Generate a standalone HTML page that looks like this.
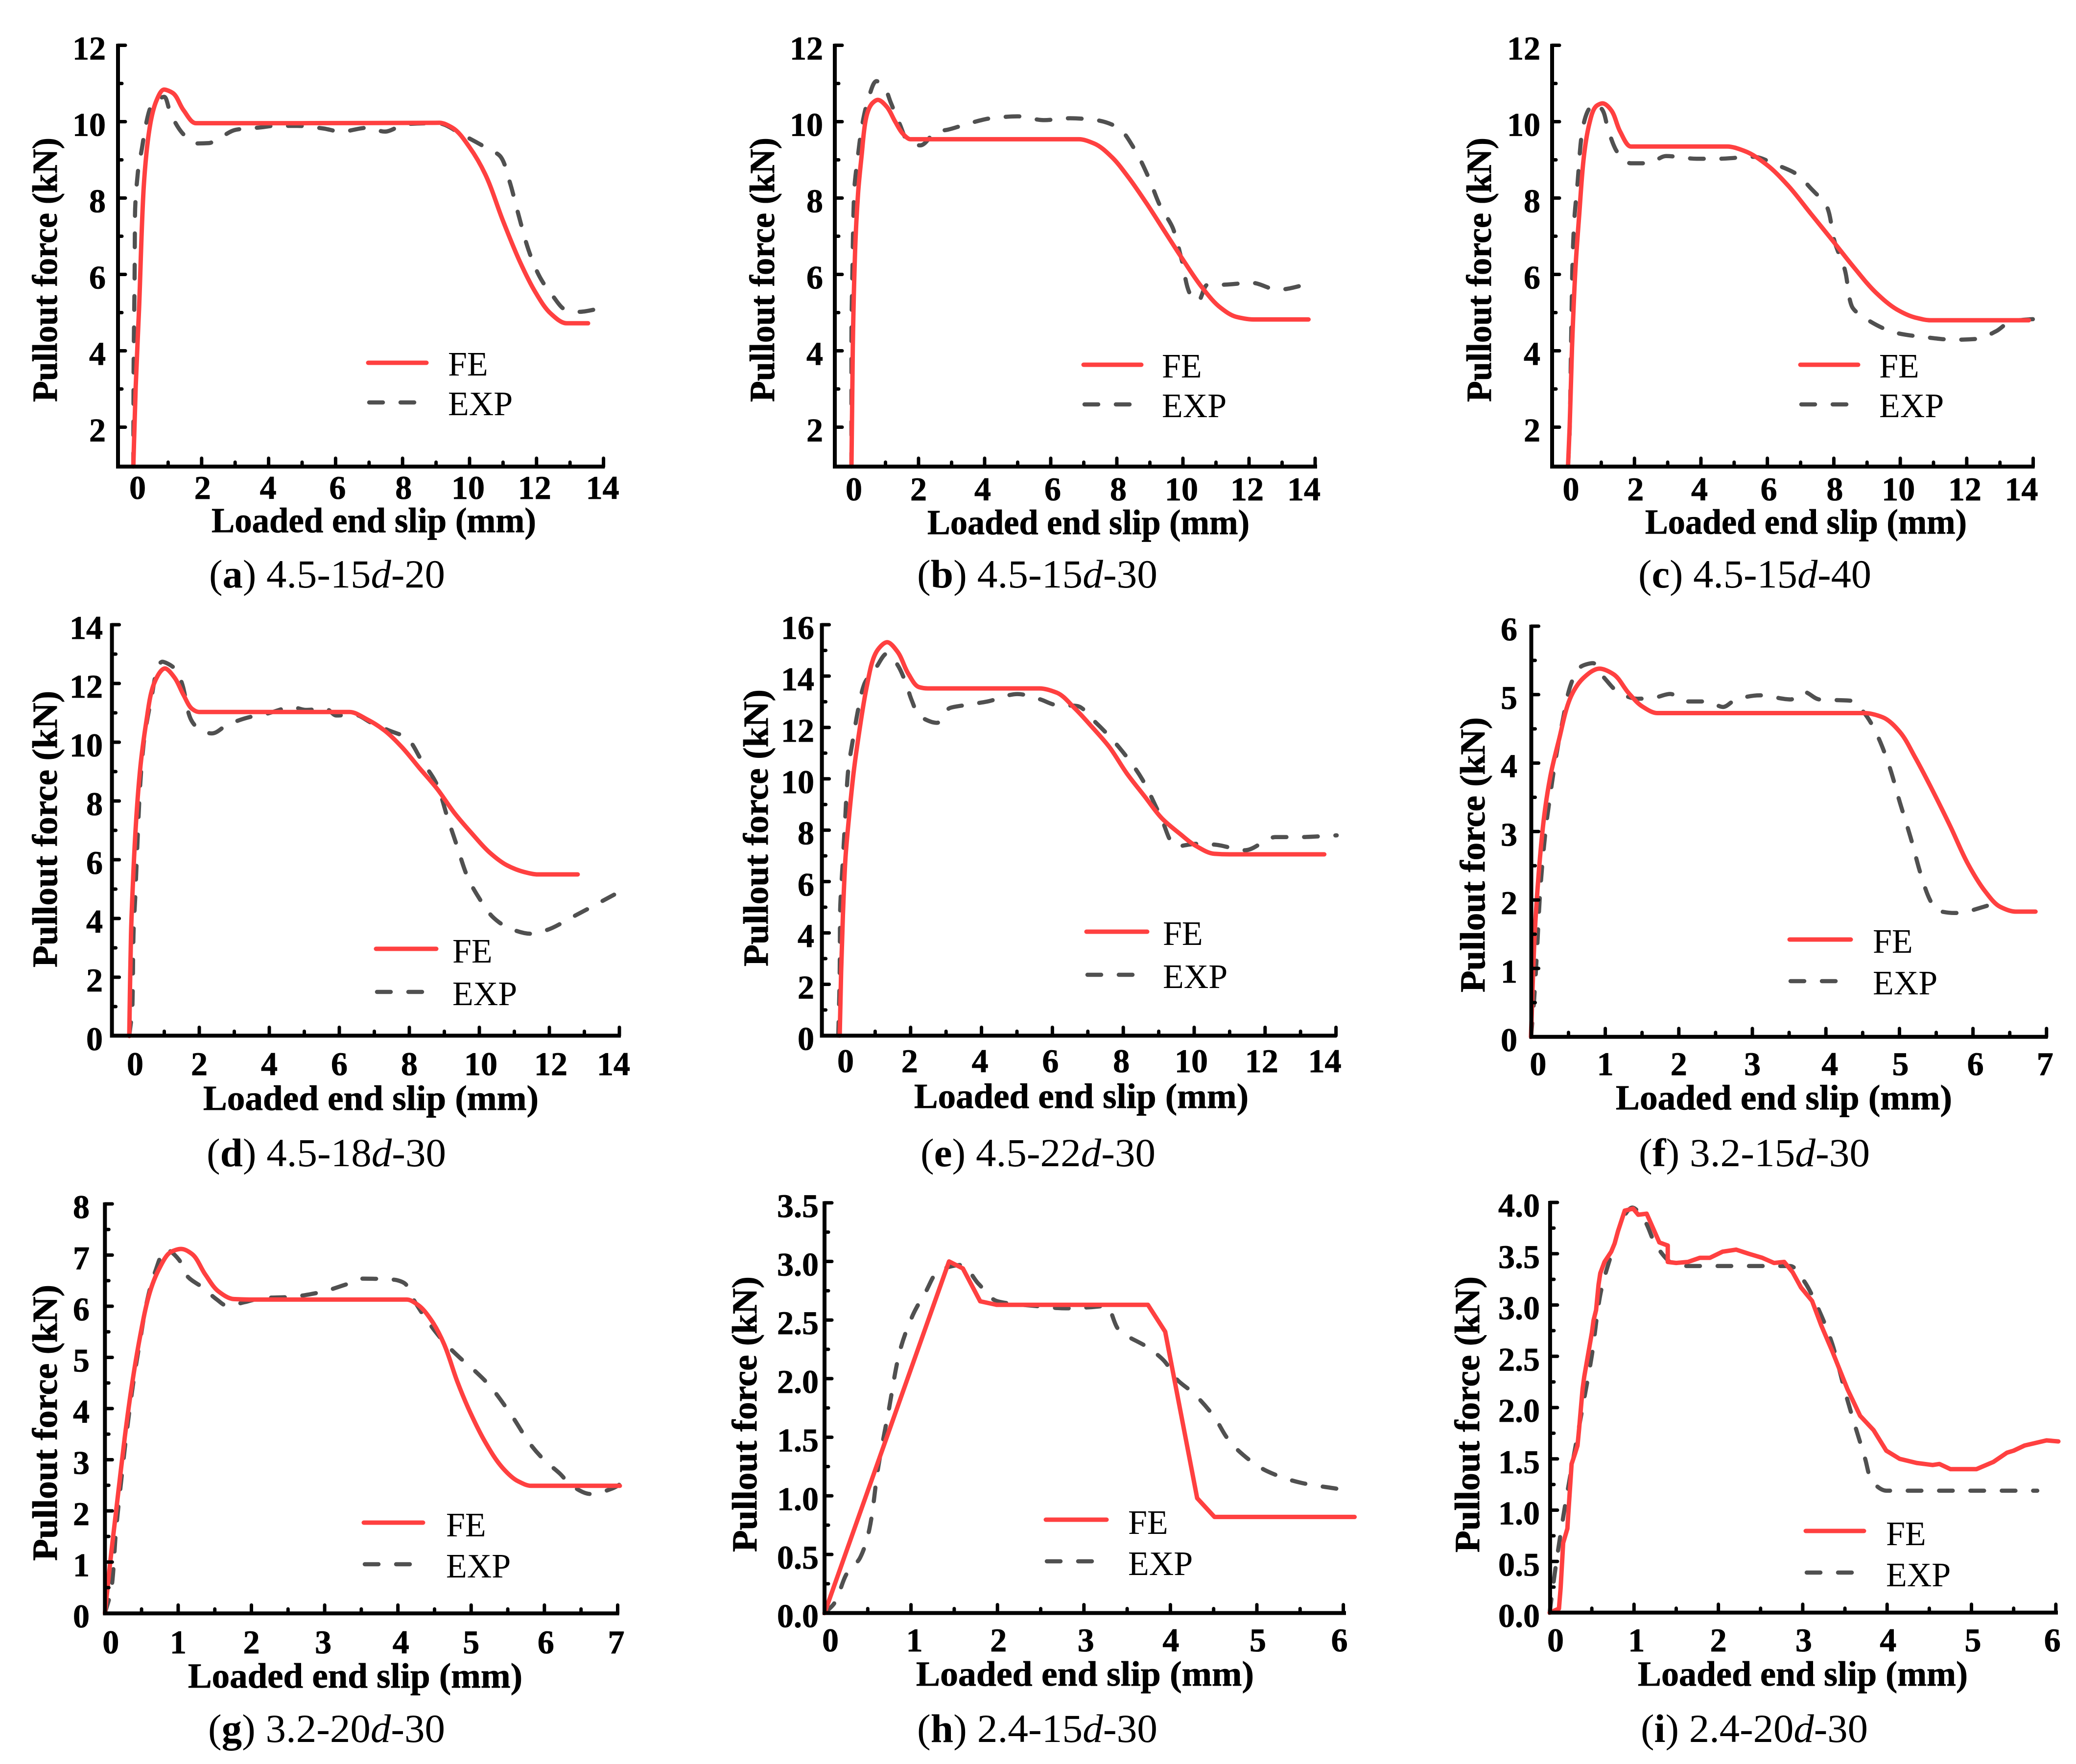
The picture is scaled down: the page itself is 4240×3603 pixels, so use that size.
<!DOCTYPE html>
<html lang="en">
<head>
<meta charset="utf-8">
<title>Pullout force versus loaded end slip</title>
<style>
html,body{margin:0;padding:0;background:#fff;}
svg{display:block;}
text{font-family:"Liberation Serif",serif;fill:#000;}
.title{font-weight:bold;font-size:72px;stroke:#000;stroke-width:0.8;}
.cap{font-size:82px;}
.leg{font-size:70px;}
.tick{font-weight:bold;font-size:68px;stroke:#000;stroke-width:0.8;}
.fe{fill:none;stroke:#ff4040;stroke-width:9;stroke-linecap:round;stroke-linejoin:round;}
.exp{fill:none;stroke:#505050;stroke-width:8.5;stroke-linecap:round;stroke-linejoin:round;stroke-dasharray:28 36;}
</style>
</head>
<body>
<svg id="fig" xmlns="http://www.w3.org/2000/svg" width="4240" height="3603" viewBox="0 0 4240 3603">
<rect x="0" y="0" width="4240" height="3603" fill="#fff"/>

<g id="panel-a">
<text class="title" x="432" y="1087" textLength="663" lengthAdjust="spacingAndGlyphs">Loaded end slip (mm)</text>
<text class="title" transform="translate(116 821) rotate(-90)" textLength="540" lengthAdjust="spacingAndGlyphs">Pullout force (kN)</text>
<text class="cap" x="427" y="1200" textLength="482" lengthAdjust="spacingAndGlyphs">(<tspan font-weight="bold">a</tspan>) 4.5-15<tspan font-style="italic">d</tspan>-20</text>
<line class="fe" x1="752" y1="741" x2="871" y2="741"/>
<text class="leg" x="915" y="767">FE</text>
<line class="exp" x1="754" y1="822" x2="858" y2="822"/>
<text class="leg" x="915" y="848">EXP</text>
</g>

<g id="panel-b">
<text class="title" x="1894" y="1091" textLength="658" lengthAdjust="spacingAndGlyphs">Loaded end slip (mm)</text>
<text class="title" transform="translate(1581 821) rotate(-90)" textLength="540" lengthAdjust="spacingAndGlyphs">Pullout force (kN)</text>
<text class="cap" x="1873" y="1200" textLength="491" lengthAdjust="spacingAndGlyphs">(<tspan font-weight="bold">b</tspan>) 4.5-15<tspan font-style="italic">d</tspan>-30</text>
<line class="fe" x1="2213" y1="745" x2="2331" y2="745"/>
<text class="leg" x="2373" y="771">FE</text>
<line class="exp" x1="2215" y1="826" x2="2319" y2="826"/>
<text class="leg" x="2373" y="852">EXP</text>
</g>

<g id="panel-c">
<text class="title" x="3360" y="1090" textLength="657" lengthAdjust="spacingAndGlyphs">Loaded end slip (mm)</text>
<text class="title" transform="translate(3045 821) rotate(-90)" textLength="540" lengthAdjust="spacingAndGlyphs">Pullout force (kN)</text>
<text class="cap" x="3346" y="1200" textLength="476" lengthAdjust="spacingAndGlyphs">(<tspan font-weight="bold">c</tspan>) 4.5-15<tspan font-style="italic">d</tspan>-40</text>
<line class="fe" x1="3677" y1="745" x2="3795" y2="745"/>
<text class="leg" x="3838" y="771">FE</text>
<line class="exp" x1="3679" y1="826" x2="3783" y2="826"/>
<text class="leg" x="3838" y="852">EXP</text>
</g>

<g id="panel-d">
<text class="title" x="415" y="2267" textLength="685" lengthAdjust="spacingAndGlyphs">Loaded end slip (mm)</text>
<text class="title" transform="translate(116 1976) rotate(-90)" textLength="565" lengthAdjust="spacingAndGlyphs">Pullout force (kN)</text>
<text class="cap" x="422" y="2382" textLength="489" lengthAdjust="spacingAndGlyphs">(<tspan font-weight="bold">d</tspan>) 4.5-18<tspan font-style="italic">d</tspan>-30</text>
<line class="fe" x1="768" y1="1938" x2="891" y2="1938"/>
<text class="leg" x="924" y="1966">FE</text>
<line class="exp" x1="770" y1="2026" x2="880" y2="2026"/>
<text class="leg" x="924" y="2053">EXP</text>
</g>

<g id="panel-e">
<text class="title" x="1867" y="2263" textLength="683" lengthAdjust="spacingAndGlyphs">Loaded end slip (mm)</text>
<text class="title" transform="translate(1568 1974) rotate(-90)" textLength="566" lengthAdjust="spacingAndGlyphs">Pullout force (kN)</text>
<text class="cap" x="1880" y="2382" textLength="480" lengthAdjust="spacingAndGlyphs">(<tspan font-weight="bold">e</tspan>) 4.5-22<tspan font-style="italic">d</tspan>-30</text>
<line class="fe" x1="2219" y1="1903" x2="2343" y2="1903"/>
<text class="leg" x="2375" y="1930">FE</text>
<line class="exp" x1="2221" y1="1991" x2="2331" y2="1991"/>
<text class="leg" x="2375" y="2018">EXP</text>
</g>

<g id="panel-f">
<text class="title" x="3300" y="2266" textLength="687" lengthAdjust="spacingAndGlyphs">Loaded end slip (mm)</text>
<text class="title" transform="translate(3032 2027) rotate(-90)" textLength="562" lengthAdjust="spacingAndGlyphs">Pullout force (kN)</text>
<text class="cap" x="3347" y="2382" textLength="472" lengthAdjust="spacingAndGlyphs">(<tspan font-weight="bold">f</tspan>) 3.2-15<tspan font-style="italic">d</tspan>-30</text>
<line class="fe" x1="3655" y1="1919" x2="3780" y2="1919"/>
<text class="leg" x="3825" y="1946">FE</text>
<line class="exp" x1="3657" y1="2004" x2="3767" y2="2004"/>
<text class="leg" x="3825" y="2031">EXP</text>
</g>

<g id="panel-g">
<text class="title" x="384" y="3447" textLength="683" lengthAdjust="spacingAndGlyphs">Loaded end slip (mm)</text>
<text class="title" transform="translate(116 3188) rotate(-90)" textLength="564" lengthAdjust="spacingAndGlyphs">Pullout force (kN)</text>
<text class="cap" x="425" y="3558" textLength="484" lengthAdjust="spacingAndGlyphs">(<tspan font-weight="bold">g</tspan>) 3.2-20<tspan font-style="italic">d</tspan>-30</text>
<line class="fe" x1="743" y1="3110" x2="864" y2="3110"/>
<text class="leg" x="911" y="3138">FE</text>
<line class="exp" x1="745" y1="3195" x2="853" y2="3195"/>
<text class="leg" x="911" y="3222">EXP</text>
</g>

<g id="panel-h">
<text class="title" x="1871" y="3443" textLength="690" lengthAdjust="spacingAndGlyphs">Loaded end slip (mm)</text>
<text class="title" transform="translate(1545 3170) rotate(-90)" textLength="563" lengthAdjust="spacingAndGlyphs">Pullout force (kN)</text>
<text class="cap" x="1873" y="3558" textLength="491" lengthAdjust="spacingAndGlyphs">(<tspan font-weight="bold">h</tspan>) 2.4-15<tspan font-style="italic">d</tspan>-30</text>
<line class="fe" x1="2136" y1="3104" x2="2260" y2="3104"/>
<text class="leg" x="2304" y="3133">FE</text>
<line class="exp" x1="2138" y1="3189" x2="2248" y2="3189"/>
<text class="leg" x="2304" y="3217">EXP</text>
</g>

<g id="panel-i">
<text class="title" x="3345" y="3443" textLength="674" lengthAdjust="spacingAndGlyphs">Loaded end slip (mm)</text>
<text class="title" transform="translate(3021 3171) rotate(-90)" textLength="564" lengthAdjust="spacingAndGlyphs">Pullout force (kN)</text>
<text class="cap" x="3351" y="3558" textLength="464" lengthAdjust="spacingAndGlyphs">(<tspan font-weight="bold">i</tspan>) 2.4-20<tspan font-style="italic">d</tspan>-30</text>
<line class="fe" x1="3688" y1="3127" x2="3807" y2="3127"/>
<text class="leg" x="3852" y="3156">FE</text>
<line class="exp" x1="3690" y1="3212" x2="3796" y2="3212"/>
<text class="leg" x="3852" y="3240">EXP</text>
</g>
</svg>

<script>
const xTicks14 = ["0","2","4","6","8","10","12","14"];
const xTicks7 = ["0","1","2","3","4","5","6","7"];
const xTicks6 = ["0","1","2","3","4","5","6"];
const yTicks12 = ["2","4","6","8","10","12"];
const yTicks14 = ["0","2","4","6","8","10","12","14"];
const yTicks16 = ["0","2","4","6","8","10","12","14","16"];
const yTicks6 = ["0","1","2","3","4","5","6"];
const yTicks8 = ["0","1","2","3","4","5","6","7","8"];
const yTicks35 = ["0.0","0.5","1.0","1.5","2.0","2.5","3.0","3.5"];
const yTicks40 = ["0.0","0.5","1.0","1.5","2.0","2.5","3.0","3.5","4.0"];

const aFeX = [-0.04,0.03,0.13,0.26,0.35,0.48,0.65,0.88,1.14,1.46,1.83,2.1,5,9.1,9.49,10,10.47,11,11.5,11.97,12.43,12.9,13.54];
const aFeY = [0.97,3.04,5.07,8.12,9.15,10,10.55,10.84,10.75,10.3,9.96,9.96,9.96,9.97,9.84,9.33,8.62,7.4,6.34,5.53,4.97,4.72,4.72];
const aExpX = [-0.04,-0.03,0,0.01,0.1,0.22,0.34,0.54,0.88,1.05,1.27,1.49,1.83,2.22,2.46,3.03,3.77,4.17,4.86,5.64,6.16,6.95,7.47,8.12,9.03,9.82,10.47,10.93,11.2,11.45,11.78,12.1,12.49,12.88,13.28,13.8];
const aExpY = [0.97,3.55,6.09,7.54,8.7,9.31,9.94,10.48,10.65,10.28,9.89,9.64,9.43,9.44,9.53,9.79,9.85,9.89,9.89,9.82,9.74,9.84,9.74,9.94,9.96,9.64,9.33,9.08,8.42,7.6,6.59,5.93,5.43,5.07,5.02,5.09];

const bFeX = [-0.03,0.01,0.08,0.17,0.28,0.4,0.57,0.77,1.03,1.3,1.52,1.76,2.88,6.85,7.31,7.84,8.37,8.9,9.43,9.96,10.56,11.15,11.61,12.14,13.8];
const bFeY = [0.97,4.06,6.6,8.12,9.13,10.04,10.45,10.57,10.4,9.99,9.69,9.54,9.54,9.54,9.43,9.08,8.52,7.86,7.15,6.44,5.68,5.12,4.89,4.82,4.82];
const bExpX = [-0.03,-0.03,0,0.05,0.17,0.3,0.5,0.73,0.97,1.16,1.43,1.69,2.05,2.55,2.88,3.55,4.2,5,5.79,6.59,7.38,8.04,8.5,8.97,9.3,9.7,9.96,10.22,10.45,10.75,11.15,12.08,12.87,13.93];
const bExpY = [0.97,4.36,6.09,8.12,9.13,9.94,10.65,11.06,10.9,10.5,9.94,9.48,9.38,9.74,9.79,9.96,10.09,10.14,10.04,10.09,10.04,9.84,9.33,8.52,7.81,7.2,6.39,5.48,5.3,5.73,5.73,5.78,5.6,5.78];

const cFeX = [0,0.05,0.12,0.22,0.34,0.47,0.64,0.84,1.04,1.3,1.57,1.89,4.79,5.32,5.97,6.63,7.29,7.95,8.6,9.26,9.92,10.45,10.91,13.87];
const cFeY = [0.97,2.03,4.06,6.09,7.6,9.03,9.94,10.4,10.48,10.3,9.74,9.35,9.35,9.23,8.88,8.32,7.61,6.9,6.19,5.53,5.07,4.87,4.8,4.8];
const cExpX = [0,0.05,0.09,0.13,0.18,0.29,0.41,0.58,0.8,1.04,1.21,1.5,1.89,2.42,2.95,3.87,4.53,5.58,6.24,6.89,7.29,7.82,8.01,8.34,8.54,9,9.92,10.71,11.63,12.29,12.88,13.34,14.33];
const cExpY = [0.97,1.93,4.06,6.09,7.3,8.42,9.64,10.25,10.47,10.3,9.79,9.18,8.91,8.91,9.1,9.03,9.03,9.08,8.88,8.62,8.27,7.71,6.9,6.09,5.17,4.82,4.46,4.36,4.29,4.31,4.51,4.77,4.85];

const dFeX = [0,0.02,0.05,0.11,0.2,0.32,0.49,0.67,1.02,1.3,1.55,1.8,1.99,6.29,6.79,7.29,7.79,8.29,8.79,9.29,9.79,10.29,10.79,11.29,11.66,12.81];
const dFeY = [0,1.53,3.45,5.36,7.4,9.19,10.72,11.87,12.51,12.19,11.61,11.13,11.03,11.03,10.78,10.4,9.83,9.12,8.42,7.59,6.89,6.25,5.81,5.58,5.5,5.5];
const dExpX = [0,0.09,0.12,0.17,0.24,0.3,0.4,0.61,0.95,1.27,1.49,1.76,2.05,2.36,2.8,3.42,3.92,4.67,5.04,5.61,5.92,6.42,6.92,7.42,7.92,8.35,8.79,9.1,9.35,9.66,9.98,10.41,10.91,11.47,11.91,12.66,13.85];
const dExpY = [0,1.02,3.45,4.72,6.76,8.3,9.83,11.36,12.74,12.54,12.06,10.78,10.4,10.3,10.59,10.85,10.97,11.19,11.1,11.14,10.91,10.94,10.66,10.4,10.15,9.38,8.55,7.4,6.51,5.42,4.72,4.02,3.64,3.48,3.6,4.05,4.81];

const eFeX = [0,0.04,0.09,0.16,0.27,0.39,0.55,0.76,1.01,1.34,1.63,1.94,2.24,2.49,5.64,6.13,6.62,7.11,7.61,8.1,8.59,9.09,9.58,10.07,10.57,11,13.67];
const eFeY = [0,2.48,4.67,6.86,8.61,10.21,11.82,13.57,14.88,15.32,14.95,14.08,13.57,13.52,13.52,13.35,12.76,12.03,11.23,10.21,9.34,8.46,7.88,7.37,7.08,7.06,7.06];
const eExpX = [-0.04,0,0.01,0.09,0.15,0.23,0.39,0.52,0.7,1.01,1.34,1.63,1.87,2.03,2.24,2.74,3.11,3.54,4.16,5.02,5.64,6.13,6.68,7.18,7.92,8.53,9.03,9.52,10.07,10.57,11.43,12.3,12.91,14.02];
const eExpY = [0,2.48,4.67,6.86,8.32,10.21,11.67,12.69,13.71,14.3,14.88,14.44,13.71,13.06,12.47,12.18,12.76,12.87,13.01,13.3,13.1,12.87,12.84,12.25,11.16,9.99,8.61,7.37,7.47,7.44,7.22,7.73,7.73,7.8];

const fFeX = [-0.01,0.01,0.04,0.09,0.16,0.25,0.37,0.52,0.7,0.92,1.11,1.32,1.5,1.71,4.53,4.77,5.01,5.21,5.45,5.69,5.93,6.17,6.37,6.58,6.85];
const fFeY = [0,0.67,1.49,2.32,3.14,3.79,4.34,4.94,5.24,5.38,5.3,5.02,4.83,4.73,4.73,4.67,4.45,4.09,3.6,3.08,2.53,2.12,1.9,1.83,1.83];
const fExpX = [-0.01,0.03,0.07,0.11,0.19,0.25,0.31,0.43,0.52,0.67,0.83,0.99,1.2,1.44,1.68,1.88,2.12,2.39,2.6,2.78,3.1,3.52,3.7,3.91,4.35,4.53,4.68,4.86,5.01,5.15,5.3,5.42,5.51,5.75,6.31];
const fExpY = [0,0.51,1.22,2.04,3.03,3.52,3.96,4.67,5.11,5.41,5.46,5.24,5.02,4.94,4.96,5.01,4.9,4.9,4.82,4.93,4.99,4.93,5.04,4.93,4.91,4.72,4.45,3.96,3.41,2.92,2.34,1.99,1.85,1.81,1.95];

const gFeX = [0,0.09,0.18,0.27,0.36,0.48,0.6,0.75,0.9,1.04,1.19,1.37,1.55,1.76,2.03,4.12,4.27,4.45,4.63,4.81,4.96,5.19,5.43,5.64,5.82,7.03];
const gFeY = [0,1.23,2.33,3.43,4.38,5.41,6.21,6.76,7.06,7.12,7.02,6.62,6.29,6.14,6.13,6.13,6.03,5.74,5.26,4.53,4.01,3.35,2.84,2.58,2.49,2.49];
const gExpX = [0,0.09,0.15,0.23,0.3,0.39,0.48,0.57,0.69,0.84,1.01,1.13,1.34,1.52,1.67,1.91,2.15,2.51,2.93,3.28,3.52,3.94,4.09,4.21,4.39,4.63,4.84,5.04,5.25,5.55,5.82,6,6.21,6.36,6.63,6.93,7.19];
const gExpY = [0,0.49,1.59,2.69,3.57,4.53,5.33,6.07,6.69,7.11,6.91,6.58,6.36,6.14,6.01,6.08,6.16,6.18,6.27,6.42,6.54,6.52,6.45,6.14,5.74,5.3,5,4.75,4.45,3.87,3.28,2.99,2.73,2.51,2.33,2.44,2.69];

const hFeX = [0,1.44,1.6,1.8,1.99,3.74,3.94,4.31,4.51,6.13];
const hFeY = [0,3,2.94,2.66,2.63,2.63,2.4,0.98,0.82,0.82];
const hExpX = [0,0.11,0.26,0.41,0.52,0.62,0.74,0.87,1.02,1.17,1.32,1.58,1.78,2,2.44,2.79,3.09,3.25,3.4,3.75,3.93,4.08,4.26,4.51,4.66,4.81,5.12,5.52,5.93];
const hExpY = [0,0.08,0.34,0.47,0.72,1.24,1.72,2.23,2.54,2.74,2.92,2.97,2.81,2.66,2.62,2.6,2.61,2.62,2.42,2.26,2.15,1.99,1.88,1.67,1.49,1.37,1.21,1.11,1.06];

const iFeX = [0,0.11,0.13,0.16,0.21,0.22,0.26,0.3,0.33,0.35,0.39,0.41,0.5,0.52,0.55,0.58,0.6,0.65,0.73,0.77,0.81,0.89,0.99,1.05,1.15,1.22,1.3,1.4,1.4,1.5,1.64,1.78,1.9,2.05,2.21,2.36,2.52,2.66,2.78,2.88,2.98,3.11,3.22,3.35,3.53,3.68,3.84,3.99,4.15,4.35,4.54,4.62,4.75,5.06,5.26,5.42,5.5,5.63,5.89,6.03];
const iFeY = [0,0.04,0.24,0.68,0.82,0.95,1.45,1.55,1.63,1.8,2.18,2.3,2.73,2.85,2.95,3.2,3.31,3.42,3.52,3.6,3.72,3.92,3.94,3.88,3.89,3.76,3.61,3.58,3.42,3.41,3.42,3.46,3.46,3.52,3.54,3.5,3.46,3.41,3.42,3.32,3.17,3.04,2.8,2.55,2.18,1.92,1.78,1.58,1.5,1.46,1.44,1.45,1.4,1.4,1.47,1.56,1.58,1.63,1.68,1.67];
const iExpX = [0,0.06,0.16,0.26,0.39,0.5,0.6,0.76,0.86,0.98,1.12,1.27,1.53,2.67,2.85,3.01,3.17,3.35,3.5,3.61,3.74,3.81,3.99,5.78];
const iExpY = [0,0.38,0.93,1.41,2,2.51,3.1,3.57,3.83,3.95,3.83,3.57,3.38,3.38,3.38,3.24,2.99,2.62,2.16,1.85,1.5,1.3,1.19,1.19];

const panels = [
 {id:'a',feX:aFeX,feY:aFeY,expX:aExpX,expY:aExpY,xTicks:xTicks14,yTicks:yTicks12,x0:275,xs:68.4,left:241,right:1232,y0:92.5,yv:12,ys:78,bottom:953,labR:216,labB:1019,feLinear:false,nudge:[6,2,-1,4,2,-3,-4,-2]},
 {id:'b',feX:bFeX,feY:bFeY,expX:bExpX,expY:bExpY,xTicks:xTicks14,yTicks:yTicks12,x0:1741,xs:67.5,left:1705,right:2687,y0:92.5,yv:12,ys:78,bottom:953,labR:1681,labB:1022,feLinear:false,nudge:[3,0,-4,4,3,-3,-4,-23]},
 {id:'c',feX:cFeX,feY:cFeY,expX:cExpX,expY:cExpY,xTicks:xTicks14,yTicks:yTicks12,x0:3202.5,xs:67.86,left:3170,right:4152.5,y0:92.5,yv:12,ys:78,bottom:953,labR:3146,labB:1022,feLinear:false,nudge:[6,2,-3,3,2,-4,-4,-24]},
 {id:'d',feX:dFeX,feY:dFeY,expX:dExpX,expY:dExpY,xTicks:xTicks14,yTicks:yTicks14,x0:264,xs:71.5,left:228.6,right:1265,y0:1276,yv:14,ys:60,bottom:2115.4,labR:210,labB:2196,feLinear:false,nudge:[12,0,0,0,0,3,3,-12]},
 {id:'e',feX:eFeX,feY:eFeY,expX:eExpX,expY:eExpY,xTicks:xTicks14,yTicks:yTicks16,x0:1715,xs:72.4,left:1678.6,right:2726.8,y0:1276,yv:16,ys:52.46,bottom:2115.4,labR:1663,labB:2190,feLinear:false,nudge:[12,-2,-3,-4,-4,-6,-7,-23]},
 {id:'f',feX:fFeX,feY:fFeY,expX:fExpX,expY:fExpY,xTicks:xTicks7,yTicks:yTicks6,x0:3128.4,xs:150.2,left:3127.5,right:4179.3,y0:1279,yv:6,ys:139.8,bottom:2117.7,labR:3099,labB:2196,feLinear:false,nudge:[13,0,0,0,8,2,5,-3]},
 {id:'g',feX:gFeX,feY:gFeY,expX:gExpX,expY:gExpY,xTicks:xTicks7,yTicks:yTicks8,x0:214.3,xs:149.6,left:214.3,right:1261.6,y0:2459,yv:8,ys:104.5,bottom:3295.4,labR:183,labB:3377,feLinear:false,nudge:[12,0,0,-3,6,0,3,-3]},
 {id:'h',feX:hFeX,feY:hFeY,expX:hExpX,expY:hExpY,xTicks:xTicks6,yTicks:yTicks35,x0:1684,xs:176.6,left:1684,right:2746,y0:2456.8,yv:3.5,ys:239.4,bottom:3294.6,labR:1672,labB:3373,feLinear:true,nudge:[12,7,2,4,1,2,-8]},
 {id:'i',feX:iFeX,feY:iFeY,expX:iExpX,expY:iExpY,xTicks:xTicks6,yTicks:yTicks40,x0:3165,xs:172.3,left:3165.9,right:4200,y0:2456,yv:4,ys:209.5,bottom:3293.8,labR:3145,labB:3373,feLinear:true,nudge:[12,5,0,2,2,3,-7]}
];

const NS = 'http://www.w3.org/2000/svg';
function make(tag, attrs, parent) {
  const el = document.createElementNS(NS, tag);
  for (const k in attrs) el.setAttribute(k, attrs[k]);
  parent.appendChild(el);
  return el;
}
function xScale(p, v) { return p.x0 + v * p.xs; }
function yScale(p, v) { return p.y0 + (p.yv - v) * p.ys; }
function linearPath(pts) {
  return pts.map((q, i) => (i ? 'L' : 'M') + q[0].toFixed(1) + ' ' + q[1].toFixed(1)).join('');
}
function tangents(vals, h) {
  const n = vals.length, m = new Array(n).fill(0), d = [];
  for (let i = 0; i < n - 1; i++) d.push((vals[i + 1] - vals[i]) / h[i]);
  m[0] = d[0];
  m[n - 1] = d[n - 2];
  for (let i = 1; i < n - 1; i++) {
    if (d[i - 1] * d[i] > 0) {
      const w1 = 2 * h[i] + h[i - 1], w2 = h[i] + 2 * h[i - 1];
      m[i] = (w1 + w2) / (w1 / d[i - 1] + w2 / d[i]);
    }
  }
  return m;
}
function smoothPath(pts) {
  const h = [];
  for (let i = 0; i < pts.length - 1; i++) {
    h.push(Math.max(0.01, Math.hypot(pts[i + 1][0] - pts[i][0], pts[i + 1][1] - pts[i][1])));
  }
  const mx = tangents(pts.map(q => q[0]), h), my = tangents(pts.map(q => q[1]), h);
  let d = 'M' + pts[0][0].toFixed(1) + ' ' + pts[0][1].toFixed(1);
  for (let i = 0; i < pts.length - 1; i++) {
    const k = h[i] / 3;
    d += 'C' + (pts[i][0] + mx[i] * k).toFixed(1) + ' ' + (pts[i][1] + my[i] * k).toFixed(1) + ' ' +
      (pts[i + 1][0] - mx[i + 1] * k).toFixed(1) + ' ' + (pts[i + 1][1] - my[i + 1] * k).toFixed(1) + ' ' +
      pts[i + 1][0].toFixed(1) + ' ' + pts[i + 1][1].toFixed(1);
  }
  return d;
}
function seriesPoints(p, xs, ys) { return xs.map((v, i) => [xScale(p, v), yScale(p, ys[i])]); }

panels.forEach(function (p) {
  const g = document.getElementById('panel-' + p.id);

  const expCurve = make('path', {class: 'exp', d: smoothPath(seriesPoints(p, p.expX, p.expY))}, g);
  
  

  const fePts = seriesPoints(p, p.feX, p.feY);
  const feCurve = make('path', {class: 'fe', d: p.feLinear ? linearPath(fePts) : smoothPath(fePts)}, g);
  
  

  const axes = make('path', {d: 'M' + p.left + ' ' + (p.y0 - 3) + 'V' + p.bottom + 'H' + (p.right + 3), fill: 'none', stroke: '#000', 'stroke-width': 8}, g);
  
  

  p.xTicks.forEach(function (label, i) {
    const v = parseFloat(label), px = xScale(p, v);
    if (v > 0) {
      const tick = make('line', {x1: px, x2: px, y1: p.bottom, y2: p.bottom - 17, stroke: '#000', 'stroke-width': 7, 'stroke-linecap': 'round'}, g);
      
      
    }
    if (i < p.xTicks.length - 1) {
      const mid = xScale(p, (v + parseFloat(p.xTicks[i + 1])) / 2);
      const minor = make('line', {x1: mid, x2: mid, y1: p.bottom, y2: p.bottom - 9, stroke: '#000', 'stroke-width': 7, 'stroke-linecap': 'round'}, g);
      
      
    }
    const txt = make('text', {class: 'tick', x: px + p.nudge[i], y: p.labB, 'text-anchor': 'middle'}, g);
    txt.textContent = label;
    
    
  });

  p.yTicks.forEach(function (label, i) {
    const v = parseFloat(label), py = yScale(p, v);
    if (v > 0) {
      const tick = make('line', {x1: p.left, x2: p.left + 15, y1: py, y2: py, stroke: '#000', 'stroke-width': 7, 'stroke-linecap': 'round'}, g);
      
      
    }
    if (i < p.yTicks.length - 1) {
      const mid = yScale(p, (v + parseFloat(p.yTicks[i + 1])) / 2);
      const minor = make('line', {x1: p.left, x2: p.left + 8, y1: mid, y2: mid, stroke: '#000', 'stroke-width': 7, 'stroke-linecap': 'round'}, g);
      
      
    }
    const txt = make('text', {class: 'tick', x: p.labR, y: py + 29, 'text-anchor': 'end'}, g);
    txt.textContent = label;
    
    
  });
});
</script>
</body>
</html>
